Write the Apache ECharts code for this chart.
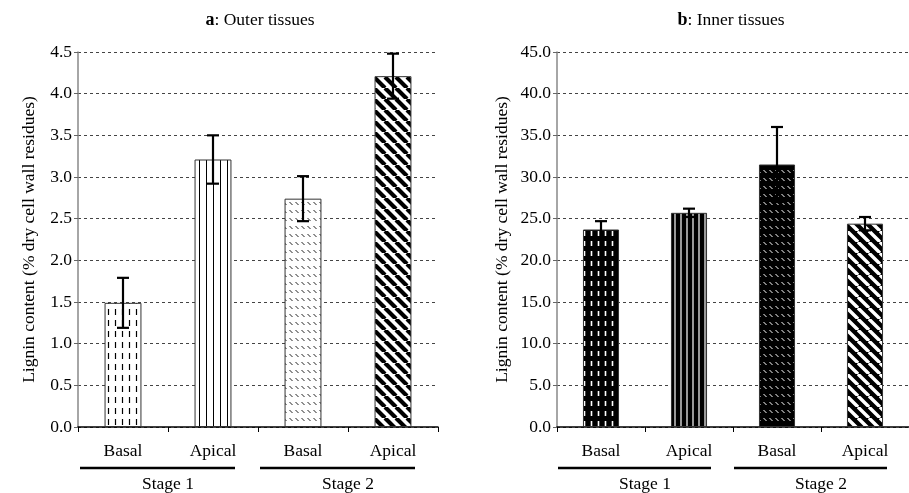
<!DOCTYPE html>
<html><head><meta charset="utf-8">
<script src="https://cdn.jsdelivr.net/npm/echarts@6/dist/echarts.min.js"></script>
<style>html,body{margin:0;padding:0;background:#fff}#c{width:909px;height:493px}</style>
</head><body><div id="c"></div>
<script>
// ---- data ----
const categories = ['Basal', 'Apical', 'Basal', 'Apical'];
const stages = ['Stage 1', 'Stage 2'];
const outerMeans = [1.49, 3.21, 2.74, 4.21];
const outerErrors = [0.30, 0.29, 0.27, 0.27];
const innerMeans = [23.7, 25.7, 31.5, 24.4];
const innerErrors = [1.0, 0.5, 4.5, 0.8];
const outerTicks = { min: 0, max: 4.5, interval: 0.5 };
const innerTicks = { min: 0, max: 45, interval: 5 };
const yName = 'Lignin content (% dry cell wall residues)';

// ---- patterns ----
function pat(w, h, bg, draw) {
  const c = document.createElement('canvas');
  c.width = w; c.height = h;
  const g = c.getContext('2d');
  g.fillStyle = bg; g.fillRect(0, 0, w, h);
  draw(g, w, h);
  return { image: c, repeat: 'repeat' };
}
function vDash(fg, lw) {
  return (g, w, h) => { g.strokeStyle = fg; g.lineWidth = lw; g.beginPath(); g.moveTo(w / 2, 1); g.lineTo(w / 2, h - 4); g.stroke(); };
}
function vLine(fg, lw) {
  return (g, w, h) => { g.strokeStyle = fg; g.lineWidth = lw; g.beginPath(); g.moveTo(w / 2, 0); g.lineTo(w / 2, h); g.stroke(); };
}
function tick(fg, lw) {
  return (g, w, h) => { g.strokeStyle = fg; g.lineWidth = lw; g.beginPath(); g.moveTo(1.5, 2); g.lineTo(4.5, 5); g.stroke(); };
}
function diag(fg, lw) {
  return (g, w, h) => {
    g.strokeStyle = fg; g.lineWidth = lw; g.beginPath();
    for (let k = -w; k <= w; k += w) { g.moveTo(k, 0); g.lineTo(k + w, h); }
    g.stroke();
  };
}
const outerPatterns = [
  pat(7, 11, '#fff', vDash('#000', 1.2)),
  pat(7, 8, '#fff', vLine('#000', 1)),
  pat(6, 8, '#fff', tick('#222', 1)),
  pat(11, 11, '#fff', diag('#000', 4.2))
];
const innerPatterns = [
  pat(7, 10, '#000', vDash('#fff', 1.6)),
  pat(6, 8, '#000', vLine('#fff', 1.2)),
  pat(6, 8, '#000', tick('#fff', 1)),
  pat(11, 11, '#000', diag('#fff', 3.4))
];

const FONT = 'Liberation Serif';
const FS = 17.5;
const txt = { fontFamily: FONT, fontSize: FS, color: '#000' };

function errItem(params, api) {
  const x = api.value(0), lo = api.value(1), hi = api.value(2);
  const a = api.coord([x, hi]), b = api.coord([x, lo]);
  const hw = 6, st = { stroke: '#000', lineWidth: 2.2 };
  return { type: 'group', children: [
    { type: 'line', shape: { x1: a[0], y1: a[1], x2: b[0], y2: b[1] }, style: st },
    { type: 'line', shape: { x1: a[0] - hw, y1: a[1], x2: a[0] + hw, y2: a[1] }, style: st },
    { type: 'line', shape: { x1: b[0] - hw, y1: b[1], x2: b[0] + hw, y2: b[1] }, style: st }
  ] };
}

function panel(idx, means, errs, pats, ticks, gap) {
  return {
    xAxis: [{
      type: 'category', gridIndex: idx, data: categories, boundaryGap: true,
      axisLine: { lineStyle: { color: '#000', width: 1.5 } },
      axisTick: { show: true, length: 5, lineStyle: { color: '#000' } },
      axisLabel: Object.assign({ margin: 15 }, txt)
    }, {
      type: 'category', gridIndex: idx, data: stages, position: 'bottom', offset: 40,
      axisLine: { show: false }, axisTick: { show: false },
      axisLabel: Object.assign({ margin: 8 }, txt)
    }],
    yAxis: {
      type: 'value', gridIndex: idx, min: ticks.min, max: ticks.max, interval: ticks.interval,
      name: yName, nameLocation: 'middle', nameGap: gap, nameRotate: 90,
      nameTextStyle: txt,
      axisLine: { show: true, lineStyle: { color: '#888', width: 1.5 } },
      axisTick: { show: true, length: 4, lineStyle: { color: '#666' } },
      axisLabel: Object.assign({ margin: 6, formatter: v => v.toFixed(1) }, txt),
      splitLine: { show: true, lineStyle: { color: '#444', type: [3, 3], width: 1 } }
    },
    series: [{
      type: 'bar', xAxisIndex: idx * 2, yAxisIndex: idx, barWidth: '41%',
      data: means.map((v, i) => ({ value: v, itemStyle: { color: pats[i], borderColor: '#333', borderWidth: 1 } })),
      z: 2
    }, {
      type: 'custom', xAxisIndex: idx * 2, yAxisIndex: idx, renderItem: errItem, z: 5,
      data: means.map((v, i) => [i, v - errs[i], v + errs[i]])
    }]
  };
}

const pa = panel(0, outerMeans, outerErrors, outerPatterns, outerTicks, 40);
const pb = panel(1, innerMeans, innerErrors, innerPatterns, innerTicks, 46);

const richT = { b: { fontFamily: FONT, fontSize: 18, fontWeight: 'bold', color: '#000' }, n: { fontFamily: FONT, fontSize: FS, fontWeight: 'normal', color: '#000' } };
const chart = echarts.init(document.getElementById('c'));
chart.setOption({
  animation: false,
  backgroundColor: '#fff',
  title: [
    { text: '{b|a}{n|: Outer tissues}', left: 255, top: 6, textAlign: 'center', textStyle: { fontWeight: 'normal', rich: richT } },
    { text: '{b|b}{n|: Inner tissues}', left: 726, top: 6, textAlign: 'center', textStyle: { fontWeight: 'normal', rich: richT } }
  ],
  grid: [
    { left: 78, top: 52, width: 360, height: 375 },
    { left: 557, top: 52, width: 360, height: 375 }
  ],
  xAxis: pa.xAxis.concat(pb.xAxis),
  yAxis: [pa.yAxis, pb.yAxis],
  series: pa.series.concat(pb.series)
});

// stage underlines, positioned from the category axis
const lines = [];
[0, 1].forEach(g => {
  for (let s = 0; s < 2; s++) {
    const c0 = chart.convertToPixel({ xAxisIndex: g * 2 }, s * 2);
    const c1 = chart.convertToPixel({ xAxisIndex: g * 2 }, s * 2 + 1);
    const y0 = chart.convertToPixel({ yAxisIndex: g }, 0);
    lines.push({ type: 'line', shape: { x1: c0 - 43, y1: y0 + 41, x2: c1 + 22, y2: y0 + 41 }, style: { stroke: '#000', lineWidth: 2.6 } });
  }
});
chart.setOption({ graphic: lines });
</script></body></html>
